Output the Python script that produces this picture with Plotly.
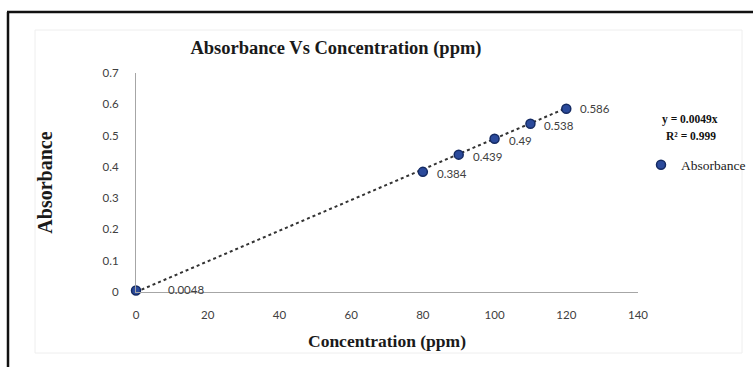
import plotly.graph_objects as go

# Data
concentration = [0, 80, 90, 100, 110, 120]
absorbance = [0.0048, 0.384, 0.439, 0.49, 0.538, 0.586]
point_labels = ["0.0048", "0.384", "0.439", "0.49", "0.538", "0.586"]
trend_slope = 0.0049
trend_x = [0, 120]
x_ticks = [0, 20, 40, 60, 80, 100, 120, 140]
y_ticks = [0, 0.1, 0.2, 0.3, 0.4, 0.5, 0.6, 0.7]
y_tick_text = ["0", "0.1", "0.2", "0.3", "0.4", "0.5", "0.6", "0.7"]

label_xshift = [30, 12, 12, 12, 12, 12]
label_yshift = [1, -2, -2, -2, -2, 0]

W, H = 753, 367
L, R, T, B = 136, 115, 73, 75
pw, ph = W - L - R, H - T - B

def px(xp):
    return (xp - L) / pw

def py(yp):
    return (H - B - yp) / ph

serif = "Liberation Serif, Times New Roman, serif"
sans = "Lato, Carlito, Calibri, sans-serif"

fig = go.Figure()

fig.add_trace(go.Scatter(
    x=trend_x, y=[trend_slope * v for v in trend_x],
    mode="lines", line=dict(color="#333333", width=2, dash="dot"),
    showlegend=False, hoverinfo="skip"))

fig.add_trace(go.Scatter(
    x=concentration, y=absorbance, mode="markers", name="Absorbance",
    marker=dict(size=9, color="#2B4A9B", line=dict(color="#142a63", width=1.5)),
    cliponaxis=False))

for xv, yv, t, xs, ys in zip(concentration, absorbance, point_labels, label_xshift, label_yshift):
    fig.add_annotation(x=xv, y=yv, text=t, showarrow=False, xanchor="left",
                       yanchor="middle", xshift=xs, yshift=ys,
                       font=dict(family=sans, size=11.5, color="#404040"))

shapes = [
    # faint chart-area border
    dict(type="rect", xref="paper", yref="paper", x0=px(35), x1=px(742), y0=py(353), y1=py(30),
         line=dict(color="#eeeeee", width=1), fillcolor="rgba(0,0,0,0)", layer="below"),
    # black frame (left and top)
    dict(type="line", xref="paper", yref="paper", x0=px(8), x1=px(8), y0=py(12), y1=py(370),
         line=dict(color="#111111", width=2.5)),
    dict(type="line", xref="paper", yref="paper", x0=px(7), x1=px(760), y0=py(12), y1=py(12),
         line=dict(color="#111111", width=2.5)),
]

fig.add_annotation(xref="paper", yref="paper", x=px(720), y=py(111), text="<b>y = 0.0049x</b>",
                   showarrow=False, font=dict(family=serif, size=11.5, color="#111111"))
fig.add_annotation(xref="paper", yref="paper", x=px(718), y=py(128), text="<b>R² = 0.999</b>",
                   showarrow=False, font=dict(family=serif, size=11.5, color="#111111"))

fig.update_layout(
    width=W, height=H,
    margin=dict(l=L, r=R, t=T, b=B, pad=0, autoexpand=False),
    paper_bgcolor="white", plot_bgcolor="white",
    shapes=shapes,
    title=dict(text="<b>Absorbance Vs Concentration (ppm)</b>", xref="container",
               x=336 / W, xanchor="center", y=1 - 48 / H, yanchor="middle",
               font=dict(family=serif, size=18.5, color="#1a1a1a")),
    showlegend=True,
    legend=dict(x=px(641), y=py(165), xanchor="left", yanchor="middle",
                font=dict(family=serif, size=13.5, color="#1a1a1a"),
                bgcolor="rgba(0,0,0,0)", itemwidth=30),
    xaxis=dict(range=[0, 140], tickvals=x_ticks, showgrid=False, zeroline=False,
               showline=True, linecolor="#a6a6a6", linewidth=1.2, ticks="",
               ticklabelstandoff=12,
               tickfont=dict(family=sans, size=11.5, color="#404040"),
               title=dict(text="<b>Concentration (ppm)</b>", standoff=14,
                          font=dict(family=serif, size=17.5, color="#1a1a1a"))),
    yaxis=dict(range=[0, 0.7], tickvals=y_ticks, ticktext=y_tick_text, showgrid=False,
               zeroline=False, showline=True, linecolor="#a6a6a6", linewidth=1.2, ticks="",
               ticklabelstandoff=14,
               tickfont=dict(family=sans, size=11.5, color="#404040"),
               title=dict(text="<b>Absorbance</b>", standoff=44,
                          font=dict(family=serif, size=20, color="#1a1a1a"))),
)

fig.write_html("out.html")
